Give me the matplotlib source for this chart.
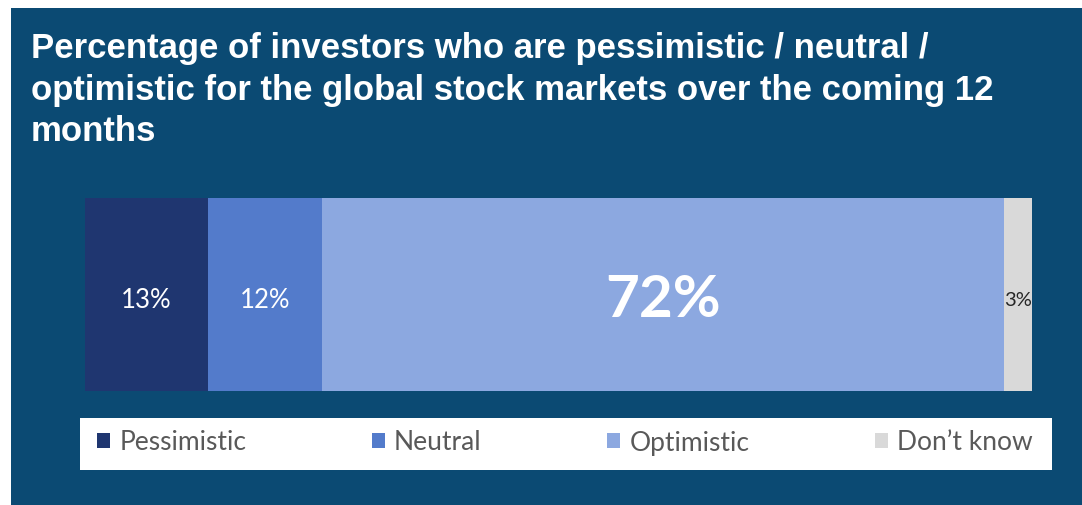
import matplotlib

matplotlib.use("Agg")
import matplotlib.pyplot as plt
from matplotlib.patches import Rectangle, Patch

CATEGORIES = ["Pessimistic", "Neutral", "Optimistic", "Don\u2019t know"]
VALUES = [13, 12, 72, 3]
COLORS = ["#1f3670", "#537bcb", "#8ca8e0", "#d9d9d9"]
LABEL_COLORS = ["white", "white", "white", "#262626"]
LABEL_SIZES = [18.5, 18.5, 42, 14.5]
LABEL_WEIGHTS = ["normal", "normal", "bold", "normal"]

TITLE = ("Percentage of investors who are pessimistic / neutral /\n"
         "optimistic for the global stock markets over the coming 12\n"
         "months")

BG = "#0b4a73"
W, H = 1082, 506

fig = plt.figure(figsize=(W / 100, H / 100), dpi=100)
fig.patch.set_facecolor("white")
fig.patches.append(Rectangle((11 / W, 0), 1 - 11 / W, 1 - 9 / H,
                             transform=fig.transFigure, facecolor=BG,
                             edgecolor="none", zorder=0))

fig.text(31 / W, 1 - 32 / H, TITLE, color="white", fontsize=25,
         fontweight="bold", family="Liberation Sans", va="top", ha="left",
         linespacing=1.33, zorder=3)

ax = fig.add_axes([85 / W, 1 - 392 / H, (1032 - 85) / W, (392 - 199) / H])
ax.set_zorder(3)
ax.set_facecolor("none")
left = 0
for cat, val, col, lc, ls, lw in zip(CATEGORIES, VALUES, COLORS,
                                     LABEL_COLORS, LABEL_SIZES, LABEL_WEIGHTS):
    ax.barh(0, val, left=left, height=1.0, color=col, edgecolor="none")
    ax.text(left + val / 2, -0.025, f"{val}%", color=lc, fontsize=ls,
            fontweight=lw, family="Lato", ha="center", va="center")
    left += val
ax.set_xlim(0, sum(VALUES))
ax.set_ylim(-0.5, 0.5)
ax.axis("off")

# legend box
fig.patches.append(Rectangle((80 / W, 1 - 471 / H), (1052 - 80) / W, 52 / H,
                             transform=fig.transFigure, facecolor="white",
                             edgecolor="none", zorder=1))
handles = [Patch(facecolor=c, edgecolor="none") for c in COLORS]
leg = fig.legend(handles, CATEGORIES, ncol=4, loc="center left",
                 bbox_to_anchor=(73 / W, 1 - 443 / H), frameon=False,
                 prop={"family": "Lato", "size": 19},
                 handlelength=0.5, handleheight=0.5, handletextpad=0.35,
                 columnspacing=4.75, labelcolor="#595959")
leg.set_zorder(4)

fig.savefig("out.png", dpi=100, facecolor=fig.get_facecolor())
